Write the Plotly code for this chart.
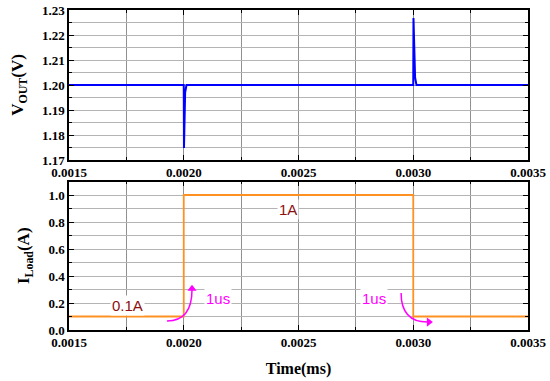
import plotly.graph_objects as go
from plotly.subplots import make_subplots

# ---- data ----
t_vout = [0.0015, 0.0020000, 0.0020010, 0.0020030, 0.0020060, 0.0020120,
          0.0030000, 0.0030010, 0.0030040, 0.0030080, 0.0030140, 0.0035]
vout = [1.200, 1.200, 1.1748, 1.190, 1.197, 1.200,
        1.200, 1.2268, 1.212, 1.203, 1.200, 1.200]

t_iload = [0.0015, 0.0020, 0.0020, 0.0030, 0.0030, 0.0035]
iload = [0.1, 0.1, 1.0, 1.0, 0.1, 0.1]

x_ticks = [0.0015, 0.0020, 0.0025, 0.0030, 0.0035]
v_ticks = [1.17, 1.18, 1.19, 1.20, 1.21, 1.22, 1.23]
i_ticks = [0.0, 0.2, 0.4, 0.6, 0.8, 1.0]

# labels: (text, t, I, color)
labels = [("1A", 0.002454, 0.895, "#8B1010"),
          ("0.1A", 0.001757, 0.185, "#8B1010"),
          ("1us", 0.002150, 0.230, "#FF00FF"),
          ("1us", 0.002829, 0.230, "#FF00FF")]

# curved arrows: start, control, end of curve; arrowhead position and direction
arrow1 = dict(start=(0.001927, 0.067), ctrl=(0.002036, 0.067), end=(0.002036, 0.300),
              head=(0.002036, 0.305), symbol="triangle-up")
arrow2 = dict(start=(0.002947, 0.274), ctrl=(0.002947, 0.059), end=(0.003062, 0.059),
              head=(0.003068, 0.059), symbol="triangle-right")

FONT = "Liberation Serif"
SANS = "Liberation Sans"
MAG = "#FF00FF"

fig = make_subplots(rows=2, cols=1, shared_xaxes=False, vertical_spacing=0.07)

fig.add_trace(go.Scatter(x=t_vout, y=vout, mode="lines",
                         line=dict(color="#0000FF", width=2), showlegend=False), row=1, col=1)
fig.add_trace(go.Scatter(x=t_iload, y=iload, mode="lines",
                         line=dict(color="#FF9122", width=1.8), showlegend=False), row=2, col=1)

axis_common = dict(
    showline=True, linecolor="black", linewidth=1.5, mirror="allticks",
    ticks="inside", ticklen=5, tickwidth=1, tickcolor="black",
    showgrid=True, gridwidth=1, zeroline=False, automargin=False,
    ticklabeloverflow="allow",
    tickfont=dict(family=FONT, size=13, color="black", weight="bold"),
)
XGRID = "#909090"
YGRID = "#b4b4b4"

xcommon = dict(axis_common, range=[0.0015, 0.0035], tickvals=x_ticks, tickformat=".4f",
               gridcolor=XGRID,
               minor=dict(dtick=0.00025, tick0=0.0015, showgrid=True, gridcolor=XGRID,
                          ticks="inside", ticklen=3, tickcolor="black"))
fig.update_xaxes(**xcommon, row=1, col=1)
fig.update_xaxes(**xcommon, row=2, col=1)
fig.update_xaxes(title=dict(text="Time(ms)", font=dict(family=FONT, size=16, color="black", weight="bold"),
                            standoff=13), row=2, col=1)

fig.update_yaxes(**axis_common, range=[1.17, 1.23], tickvals=v_ticks, tickformat=".2f",
                 gridcolor=YGRID,
                 minor=dict(dtick=0.005, tick0=1.17, showgrid=True, gridcolor=YGRID,
                            ticks="inside", ticklen=3, tickcolor="black"),
                 title=dict(text="V<sub>OUT</sub>(V)",
                            font=dict(family=FONT, size=17, color="black", weight="bold"), standoff=14),
                 row=1, col=1)
fig.update_yaxes(**axis_common, range=[0.0, 1.1], tickvals=i_ticks, tickformat=".1f",
                 gridcolor=YGRID,
                 minor=dict(dtick=0.1, tick0=0, showgrid=True, gridcolor=YGRID,
                            ticks="inside", ticklen=3, tickcolor="black"),
                 title=dict(text="I<sub>Load</sub>(A)",
                            font=dict(family=FONT, size=17, color="black", weight="bold"), standoff=14),
                 row=2, col=1)

fig.update_layout(
    width=550, height=381,
    margin=dict(l=69, r=22, t=10, b=51, autoexpand=False),
    font=dict(family=FONT),
    paper_bgcolor="white", plot_bgcolor="white",
    xaxis=dict(domain=[0, 1]), xaxis2=dict(domain=[0, 1]),
    yaxis=dict(domain=[0.53125, 1.0]), yaxis2=dict(domain=[0.0, 0.464]),
)

for text, t, i, col in labels:
    fig.add_annotation(x=t, y=i, xref="x2", yref="y2", text=text, showarrow=False,
                       font=dict(family=SANS, size=15, color=col), bgcolor="white",
                       borderpad=1)

for a in (arrow1, arrow2):
    (x0, y0), (cx, cy), (x1, y1) = a["start"], a["ctrl"], a["end"]
    fig.add_shape(type="path", xref="x2", yref="y2",
                  path=f"M {x0},{y0} Q {cx},{cy} {x1},{y1}",
                  line=dict(color=MAG, width=1.5))
    fig.add_trace(go.Scatter(x=[a["head"][0]], y=[a["head"][1]], mode="markers",
                             marker=dict(symbol=a["symbol"], size=8, color=MAG),
                             showlegend=False, hoverinfo="skip"), row=2, col=1)

fig.write_html("out.html", config={"displayModeBar": False},
               post_script="document.body.style.margin='0px';document.body.style.padding='0px';")
